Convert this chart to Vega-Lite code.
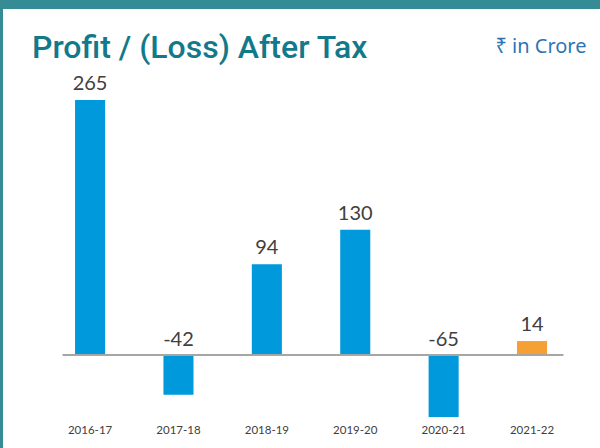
{
  "$schema": "https://vega.github.io/schema/vega-lite/v6.json",
  "width": 597,
  "height": 439,
  "autosize": "none",
  "padding": {"left": 3, "top": 9, "right": 0, "bottom": 0},
  "background": "#368C94",
  "config": {"view": {"fill": "white", "stroke": null}},
  "title": {
    "text": "Profit / (Loss) After Tax",
    "anchor": "start",
    "frame": "group",
    "offset": -81,
    "dx": 29,
    "baseline": "alphabetic",
    "font": "Roboto",
    "fontSize": 32,
    "fontWeight": 500,
    "color": "#12798A"
  },
  "data": {
    "values": [
      {"year": "2016-17", "value": 265},
      {"year": "2017-18", "value": -42},
      {"year": "2018-19", "value": 94},
      {"year": "2019-20", "value": 130},
      {"year": "2020-21", "value": -65},
      {"year": "2021-22", "value": 14}
    ]
  },
  "encoding": {
    "x": {
      "field": "year",
      "type": "ordinal",
      "sort": null,
      "scale": {"range": [59, 560], "paddingInner": 0.66, "paddingOuter": 0.164, "align": 0.45},
      "axis": {
        "title": null,
        "offset": -93.5,
        "ticks": false,
        "domainColor": "#A6A6A6",
        "domainWidth": 2,
        "labelPadding": 70,
        "labelAngle": 0,
        "labelFont": "Lato",
        "labelFontSize": 11.5,
        "labelColor": "#404040",
        "zindex": 1
      }
    }
  },
  "layer": [
    {
      "mark": {"type": "bar"},
      "encoding": {
        "y": {
          "field": "value",
          "type": "quantitative",
          "title": "₹ in Crore",
          "scale": {"domain": [-97.35, 359.75], "nice": false, "zero": false},
          "axis": {
            "orient": "right",
            "labels": false,
            "ticks": false,
            "domain": false,
            "grid": false,
            "titleAngle": 0,
            "titleAlign": "right",
            "titleBaseline": "alphabetic",
            "titleX": -14,
            "titleY": 43,
            "titleFont": "Noto Sans",
            "titleFontSize": 20,
            "titleFontWeight": "normal",
            "titleColor": "#2E74B5"
          }
        },
        "color": {
          "condition": {"test": "datum.year === '2021-22'", "value": "#F4A034"},
          "value": "#0099DB"
        }
      }
    },
    {
      "transform": [{"filter": "datum.value >= 0"}],
      "mark": {"type": "text", "baseline": "alphabetic", "dy": -10, "font": "Lato", "fontSize": 20, "color": "#404040"},
      "encoding": {
        "y": {"field": "value", "type": "quantitative", "title": "₹ in Crore"},
        "text": {"field": "value", "type": "nominal"}
      }
    },
    {
      "transform": [{"filter": "datum.value < 0"}],
      "mark": {"type": "text", "baseline": "alphabetic", "dy": -9, "font": "Lato", "fontSize": 20, "color": "#404040"},
      "encoding": {
        "y": {"datum": 0, "type": "quantitative", "title": "₹ in Crore"},
        "text": {"field": "value", "type": "nominal"}
      }
    }
  ]
}
